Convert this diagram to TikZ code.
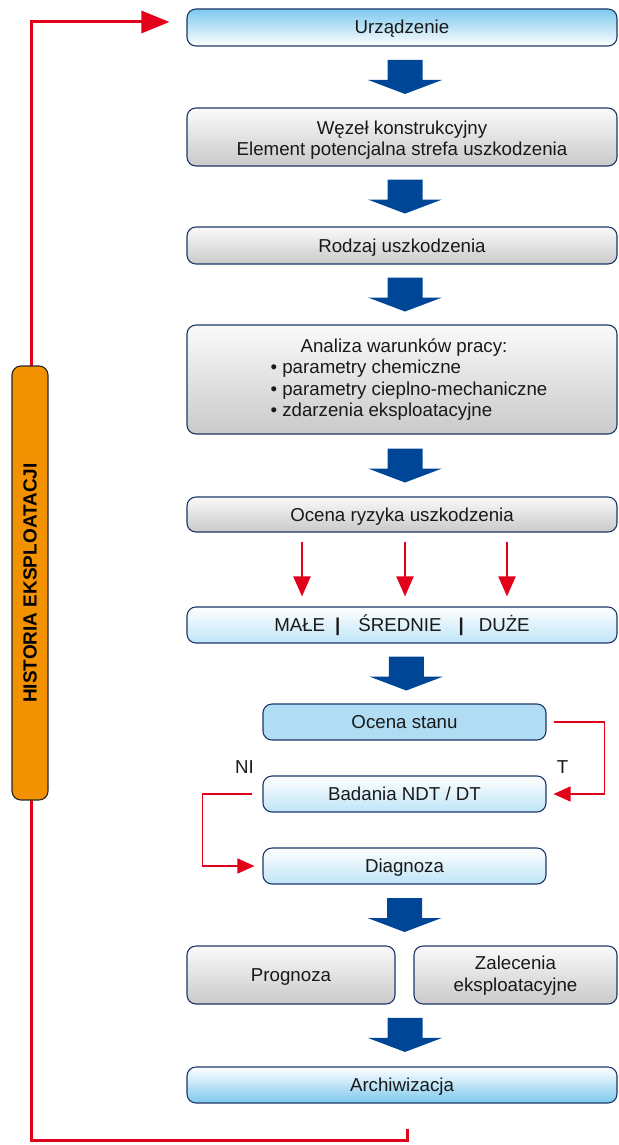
\documentclass[tikz,border=0pt]{standalone}
\usepackage{fontspec}
\setmainfont{Liberation Sans}
\usetikzlibrary{arrows.meta,calc}
\definecolor{navy}{RGB}{30,55,105}
\definecolor{arrblue}{RGB}{0,70,150}
\definecolor{redc}{RGB}{226,0,26}
\definecolor{orangec}{RGB}{243,146,0}
\definecolor{skyb}{RGB}{125,200,238}
\definecolor{paleb}{RGB}{190,228,247}
\definecolor{solidb}{RGB}{176,220,244}
\begin{document}
\begin{tikzpicture}[x=1pt,y=-1pt,
  box/.style={draw=navy, line width=1.1pt, rounded corners=9pt, minimum width=430pt,
    align=center, font=\fontsize{18.7}{21.5}\selectfont, text=black!90, inner sep=0pt},
  oneline/.style={text height=17.5pt, text depth=4.5pt},
  graybox/.style={box, top color=gray!4, bottom color=gray!42},
  topblue/.style={box, top color=skyb, bottom color=white},
  botblue/.style={box, top color=white, bottom color=skyb},
  paleblue/.style={box, top color=white, bottom color=paleb},
  solidbox/.style={box, fill=solidb},
  lbl/.style={font=\fontsize{18.7}{21.5}\selectfont, text=black!90, inner sep=0pt},
  redarrow/.style={draw=redc, line width=2pt, -{Triangle[length=20pt,width=17pt]}},
  redthin/.style={draw=redc, line width=1.6pt, -{Triangle[length=17pt,width=15pt]}},
  loopline/.style={draw=redc, line width=3pt, -{Triangle[length=28pt,width=22pt]}},
  histbar/.style={draw=black!85, line width=1.1pt, fill=orangec, rounded corners=9pt,
    minimum width=434pt, minimum height=36pt, inner sep=0pt, rotate=90,
    font=\bfseries\fontsize{19}{22}\selectfont},
  bigarrow/.pic={\fill[arrblue] (-17.5,-17) -- (-17.5,3) -- (-37,3) -- (0,17) -- (37,3) -- (17.5,3) -- (17.5,-17) -- cycle;}
]
\useasboundingbox (0,0) rectangle (618,1145);

\node[topblue, oneline, minimum height=37pt] (urz) at (402,27.5) {Urządzenie};
\node[graybox, minimum height=58pt] (wez) at (402,137) {\rule{0pt}{19.5pt}Węzeł konstrukcyjny\\Element potencjalna strefa uszkodzenia};
\node[graybox, oneline, minimum height=37pt] (rodz) at (402,245.5) {Rodzaj uszkodzenia};
\node[graybox, minimum height=109pt, align=left] (anal) at (402,379.5)
  {\hspace*{44pt}Analiza warunków pracy:\\\hspace*{14pt}• parametry chemiczne\\\hspace*{14pt}• parametry cieplno-mechaniczne\\\hspace*{14pt}• zdarzenia eksploatacyjne};
\node[graybox, oneline, minimum height=35pt] (ryz) at (402,514.5) {Ocena ryzyka uszkodzenia};
\node[paleblue, oneline, minimum height=36pt] (mal) at (402,625)
  {MAŁE\hspace{10pt}\textbf{|}\hspace{18pt}ŚREDNIE\hspace{17pt}\textbf{|}\hspace{15pt}DUŻE};
\node[solidbox, oneline, minimum width=283pt, minimum height=36pt] (ocs) at (404.5,722) {Ocena stanu};
\node[paleblue, oneline, minimum width=283pt, minimum height=36pt] (bad) at (404.5,794) {Badania NDT / DT};
\node[paleblue, oneline, minimum width=283pt, minimum height=36pt] (diag) at (404.5,866) {Diagnoza};
\node[graybox, oneline, minimum width=208pt, minimum height=58pt] (prog) at (291,975) {Prognoza};
\node[graybox, minimum width=203pt, minimum height=58pt] (zal) at (515.5,975) {\rule{0pt}{15pt}Zalecenia\\eksploatacyjne};
\node[botblue, oneline, minimum height=36pt] (arch) at (402,1085) {Archiwizacja};

\node[lbl] (ni) at ([xshift=-18pt,yshift=8pt]bad.north west) {NI};
\node[lbl] (t) at ([xshift=16pt,yshift=8pt]bad.north east) {T};

% big blue arrows
\pic at ($(urz.south)!.5!(wez.north)+(3,0)$) {bigarrow};
\pic at ($(wez.south)!.5!(rodz.north)+(3,0)$) {bigarrow};
\pic at ($(rodz.south)!.5!(anal.north)+(3,0)$) {bigarrow};
\pic at ($(anal.south)!.5!(ryz.north)+(3,0)$) {bigarrow};
\pic at ($(mal.south)!.5!(ocs.north)+(3,0)$) {bigarrow};
\pic at ($(diag.south)!.5!(diag.south |- prog.north)$) {bigarrow};
\pic at ($(arch.north)+(3,-31.5)$) {bigarrow};

% red risk arrows
\draw[redarrow] ([xshift=-100pt,yshift=-9pt]ryz.south) -- ([xshift=-100pt,yshift=10pt]mal.north);
\draw[redarrow] ([xshift=3pt,yshift=-9pt]ryz.south) -- ([xshift=3pt,yshift=10pt]mal.north);
\draw[redarrow] ([xshift=105pt,yshift=-9pt]ryz.south) -- ([xshift=105pt,yshift=10pt]mal.north);

% T / NI branches
\coordinate (tr) at ([xshift=58pt]ocs.east);
\draw[redthin] ([xshift=7pt]ocs.east) -- (tr) |- ([xshift=7pt]bad.east);
\coordinate (nl) at ([xshift=-60pt]bad.west);
\draw[redthin] ([xshift=-10pt]bad.west) -- (nl) |- ([xshift=-8pt]diag.west);

% history loop
\coordinate (lstart) at ($(arch.south)+(5,25)$);
\coordinate (lbot) at (31,1140);
\draw[loopline] (lstart) |- (lbot) |- ([yshift=5.5pt,xshift=-17pt]urz.west);

\node[histbar] (hist) at (30,583) {HISTORIA EKSPLOATACJI};
\end{tikzpicture}
\end{document}
